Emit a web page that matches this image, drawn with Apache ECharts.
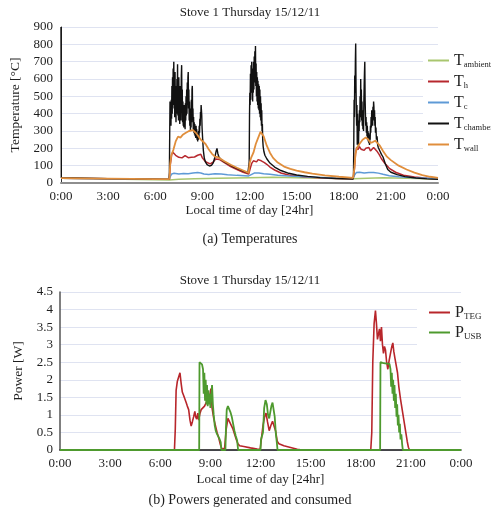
<!DOCTYPE html>
<html>
<head>
<meta charset="utf-8">
<script src="https://cdn.jsdelivr.net/npm/echarts@6/dist/echarts.min.js"></script>
<style>
html, body { margin: 0; padding: 0; background: #fff; }
#chart { width: 491px; height: 513px; }
</style>
</head>
<body>
<div id="chart"></div>
<script>
// Tick labels for the 24 hour time axis (every 3 hours)
const timeLabels = ['0:00', '3:00', '6:00', '9:00', '12:00', '15:00', '18:00', '21:00', '0:00'];

// Temperatures [°C] as [hour of day, value]
const tAmbient = [[0,27],[3,23],[6,19],[6.9,18],[7.5,21],[8.5,24],[10,28],[12,31],[13.5,33],[15,31],[17,27],[18.6,25],[19.5,28],[20.5,31],[22,28],[24,23]];

const tHot = [[0,28],[3,25],[6,22],[6.9,21],[6.95,100],[7.05,165],[7.12,178],[7.2,168],[7.3,160],[7.4,152],[7.5,148],[7.6,155],[7.7,145],[7.8,150],[7.9,158],[8.0,150],[8.1,146],[8.2,152],[8.3,148],[8.4,156],[8.5,150],[8.6,153],[8.7,160],[8.8,158],[8.9,166],[9.0,145],[9.15,128],[9.3,118],[9.5,110],[9.7,122],[9.85,138],[9.95,142],[10.1,135],[10.4,118],[10.8,95],[11.2,78],[11.6,62],[11.95,52],[12.05,85],[12.15,115],[12.25,128],[12.35,132],[12.45,122],[12.55,135],[12.65,140],[12.75,128],[12.85,122],[12.95,118],[13.1,108],[13.3,92],[13.6,75],[14.0,58],[14.5,46],[15.5,35],[17,28],[18.6,25],[18.68,80],[18.75,170],[18.82,205],[18.9,192],[19.0,210],[19.1,195],[19.2,205],[19.3,188],[19.4,200],[19.5,192],[19.6,205],[19.7,185],[19.8,195],[19.9,205],[20.0,198],[20.1,185],[20.25,165],[20.4,140],[20.6,115],[20.9,85],[21.3,62],[21.8,45],[22.5,34],[23.3,28],[24,25]];

const tCold = [[0,28],[3,25],[6,22],[6.9,21],[6.97,40],[7.05,52],[7.2,56],[7.5,52],[7.8,55],[8.1,54],[8.4,57],[8.7,60],[8.9,58],[9.1,52],[9.4,49],[9.8,54],[10.2,52],[10.6,48],[11.2,44],[11.95,41],[12.05,48],[12.3,57],[12.6,58],[12.9,54],[13.3,50],[13.8,45],[14.5,40],[15.5,36],[17,31],[18.6,27],[18.7,48],[18.8,60],[19.0,62],[19.3,58],[19.6,60],[19.9,61],[20.2,57],[20.5,50],[20.9,42],[21.5,36],[22.5,31],[24,26]];

const tChamber = [[0,900],[0.02,30],[3,25],[6,22],[6.88,21],
  // first firing
  [6.9,60],[6.92,280],[6.94,470],[6.96,360],[6.98,450],[7.00,330],[7.02,480],[7.04,370],[7.06,560],[7.08,400],[7.10,610],[7.12,450],[7.14,660],[7.16,520],[7.18,700],[7.20,430],[7.22,590],[7.24,380],[7.26,640],[7.28,410],[7.30,560],[7.32,350],[7.34,520],[7.36,400],[7.38,600],[7.40,440],[7.42,685],[7.44,390],[7.46,560],[7.48,360],[7.50,610],[7.52,380],[7.54,500],[7.56,340],[7.58,560],[7.60,410],[7.62,480],[7.64,360],[7.66,620],[7.68,680],[7.70,420],[7.72,540],[7.74,350],[7.76,470],[7.78,330],[7.80,430],[7.82,320],[7.84,450],[7.86,350],[7.88,420],[7.90,310],[7.92,460],[7.94,360],[7.96,500],[7.98,390],[8.00,540],[8.02,400],[8.04,580],[8.06,450],[8.08,610],[8.10,640],[8.12,430],[8.14,540],[8.16,360],[8.18,470],[8.20,330],[8.22,430],[8.24,300],[8.26,410],[8.28,320],[8.30,480],[8.32,350],[8.34,540],[8.36,560],[8.38,370],[8.40,430],[8.42,310],[8.44,380],[8.46,290],[8.48,350],[8.50,280],[8.52,340],[8.54,270],[8.56,320],[8.58,260],[8.60,330],[8.62,270],[8.64,310],[8.66,250],[8.68,290],[8.70,240],[8.72,280],[8.74,250],[8.76,300],[8.78,260],[8.80,330],[8.82,290],[8.84,370],[8.86,330],[8.88,410],[8.90,380],[8.92,450],[8.94,460],[8.96,390],[8.98,320],[9.02,250],[9.06,190],[9.12,145],[9.2,120],[9.3,106],[9.45,98],[9.58,102],[9.7,118],[9.8,150],[9.88,185],[9.93,200],[9.98,172],[10.05,150],[10.2,135],[10.4,122],[10.7,108],[11.0,92],[11.3,80],[11.6,68],[11.9,58],
  // second firing
  [11.98,120],[12.00,380],[12.02,520],[12.04,450],[12.06,630],[12.08,480],[12.10,680],[12.12,520],[12.14,700],[12.16,560],[12.18,620],[12.20,470],[12.22,660],[12.24,520],[12.26,700],[12.28,540],[12.30,730],[12.32,580],[12.34,760],[12.36,600],[12.38,790],[12.40,560],[12.42,690],[12.44,500],[12.46,640],[12.48,470],[12.50,610],[12.52,450],[12.54,590],[12.56,430],[12.58,570],[12.60,420],[12.62,560],[12.64,400],[12.66,540],[12.68,380],[12.70,500],[12.72,360],[12.74,460],[12.76,330],[12.78,420],[12.80,300],[12.82,340],[12.84,250],[12.87,210],[12.92,180],[12.98,160],[13.1,140],[13.3,115],[13.6,92],[14.0,72],[14.5,56],[15.0,46],[15.7,38],[16.5,31],[17.5,26],[18.6,23],
  // third firing
  [18.62,40],[18.64,250],[18.66,480],[18.68,380],[18.70,620],[18.72,520],[18.74,700],[18.76,805],[18.78,560],[18.80,420],[18.82,330],[18.84,450],[18.86,220],[18.88,400],[18.90,280],[18.92,360],[18.94,210],[18.96,340],[18.98,300],[19.00,420],[19.02,350],[19.04,500],[19.06,380],[19.08,600],[19.10,420],[19.12,540],[19.14,360],[19.16,470],[19.18,330],[19.20,420],[19.22,310],[19.24,400],[19.26,300],[19.28,470],[19.30,560],[19.32,640],[19.34,700],[19.36,480],[19.38,400],[19.40,330],[19.42,380],[19.44,290],[19.46,350],[19.48,270],[19.50,330],[19.52,250],[19.54,300],[19.56,240],[19.58,290],[19.60,230],[19.62,280],[19.64,220],[19.66,270],[19.68,250],[19.70,330],[19.72,290],[19.74,380],[19.76,320],[19.78,420],[19.80,340],[19.82,400],[19.84,330],[19.86,440],[19.88,380],[19.90,470],[19.92,440],[19.94,360],[19.96,420],[19.98,330],[20.00,380],[20.02,290],[20.05,320],[20.08,250],[20.12,270],[20.16,220],[20.2,205],[20.3,185],[20.4,165],[20.5,150],[20.65,110],[20.8,78],[21.0,62],[21.4,48],[21.9,37],[22.6,29],[23.3,24],[24,22]];

const tWall = [[0,28],[3,25],[6,22],[6.9,22],
  [6.95,110],[7.02,160],[7.15,190],[7.3,240],[7.45,268],[7.6,262],[7.75,278],[7.85,270],[7.95,290],[8.05,282],[8.15,300],[8.25,292],[8.4,305],[8.5,295],[8.6,288],[8.7,275],[8.8,262],[8.9,250],[9.05,238],[9.2,225],[9.4,195],[9.6,170],[9.8,152],[9.95,150],[10.1,142],[10.4,125],[10.8,105],[11.2,88],[11.6,72],[11.95,58],
  [12.0,110],[12.1,145],[12.25,175],[12.4,225],[12.55,260],[12.7,295],[12.8,298],[12.9,270],[13.1,215],[13.3,175],[13.5,145],[13.8,118],[14.2,95],[14.6,82],[15.0,72],[15.5,62],[16.0,54],[16.8,44],[17.7,36],[18.6,30],
  [18.68,90],[18.75,170],[18.85,205],[19.0,225],[19.2,250],[19.4,262],[19.55,252],[19.7,232],[19.85,236],[20.0,244],[20.1,243],[20.3,215],[20.5,185],[20.75,152],[21.0,132],[21.5,100],[22.0,78],[22.5,60],[23.0,46],[23.5,36],[24,30]];

// Powers [W] as [hour of day, value]
const pTeg = [[0,0],[6.85,0],[6.9,0.6],[6.95,1.7],[7.02,1.95],[7.1,1.9],[7.18,2.2],[7.25,1.9],[7.32,1.65],[7.4,1.55],[7.48,1.6],[7.55,1.35],[7.62,1.25],[7.7,1.15],[7.78,0.85],[7.85,0.68],[7.92,0.8],[8.0,0.95],[8.07,1.1],[8.12,0.95],[8.18,0.88],[8.25,1.05],[8.3,0.85],[8.38,1.05],[8.45,1.15],[8.55,1.1],[8.65,1.25],[8.75,1.35],[8.85,1.3],[8.95,1.5],[9.03,1.75],[9.1,1.2],[9.2,0.9],[9.3,0.7],[9.4,0.5],[9.5,0.35],[9.6,0.15],[9.7,0.02],[9.85,0.05],[9.95,0.6],[10.05,0.9],[10.15,0.85],[10.25,0.7],[10.35,0.6],[10.45,0.45],[10.55,0.3],[10.65,0.18],[10.75,0.12],[11.0,0.1],[11.4,0.06],[11.8,0.03],[11.98,0.02],[12.05,0.3],[12.15,0.7],[12.25,0.95],[12.33,1.05],[12.42,0.8],[12.52,0.55],[12.62,0.7],[12.72,0.82],[12.8,0.85],[12.9,0.55],[13.0,0.25],[13.1,0.18],[13.4,0.12],[13.8,0.07],[14.2,0.02],[14.5,0],[18.6,0],[18.66,0.5],[18.72,2.5],[18.8,3.6],[18.88,3.97],[18.94,3.6],[19.0,3.15],[19.06,3.3],[19.12,3.45],[19.18,3.1],[19.24,3.5],[19.3,3.0],[19.36,2.75],[19.42,2.95],[19.48,2.85],[19.55,2.5],[19.62,2.3],[19.7,2.55],[19.78,2.75],[19.86,2.95],[19.92,3.05],[19.98,2.8],[20.05,2.6],[20.12,2.65],[20.2,2.2],[20.28,1.8],[20.38,1.45],[20.48,1.15],[20.58,0.85],[20.68,0.55],[20.78,0.25],[20.85,0.08],[20.92,0],[24,0]];

const pUsb = [[0,0],[8.33,0],[8.35,2.5],[8.42,2.47],[8.5,2.44],[8.56,2.3],[8.6,1.6],[8.64,2.2],[8.68,1.4],[8.72,2.0],[8.76,1.3],[8.8,1.85],[8.84,1.25],[8.88,1.7],[8.92,1.3],[8.96,1.6],[9.0,1.2],[9.05,1.5],[9.1,1.85],[9.15,1.3],[9.2,1.0],[9.26,0.7],[9.32,0.55],[9.4,0.45],[9.48,0.4],[9.56,0.3],[9.62,0.22],[9.66,0],[9.9,0],[9.93,0.6],[9.98,1.15],[10.05,1.25],[10.12,1.22],[10.2,1.08],[10.28,0.95],[10.36,0.75],[10.44,0.55],[10.52,0.4],[10.6,0.28],[10.66,0],[12.0,0],[12.03,0.3],[12.1,0.3],[12.15,0.5],[12.22,1.2],[12.3,1.42],[12.38,1.3],[12.45,1.0],[12.52,0.9],[12.58,0.95],[12.65,1.25],[12.72,1.35],[12.78,1.3],[12.85,0.95],[12.92,0.45],[12.98,0.2],[13.02,0],[19.16,0],[19.18,2.5],[19.3,2.48],[19.45,2.47],[19.6,2.46],[19.72,2.45],[19.78,2.3],[19.82,1.8],[19.86,2.2],[19.9,1.6],[19.94,2.0],[19.98,1.4],[20.02,1.85],[20.06,1.2],[20.1,1.6],[20.14,0.95],[20.18,1.3],[20.22,0.7],[20.26,1.0],[20.3,0.5],[20.34,0.75],[20.38,0.3],[20.43,0.45],[20.48,0.15],[20.52,0],[24,0]];

const SERIF = '"Liberation Serif", "DejaVu Serif", serif';
const INK = '#1e1e1e';
const GRID_LINE = '#dfe3f1';

const chart = echarts.init(document.getElementById('chart'), null, { renderer: 'canvas' });

function timeAxis(gridIndex, nameGap, lineColor, lineWidth) {
  return {
    type: 'value', gridIndex, min: 0, max: 24, interval: 3,
    axisLine: { show: true, lineStyle: { color: lineColor, width: lineWidth } },
    axisTick: { show: false },
    splitLine: { show: false },
    axisLabel: {
      formatter: v => timeLabels[Math.round(v / 3)],
      fontFamily: SERIF, fontSize: 13, color: INK, margin: 7
    },
    name: 'Local time of day [24hr]', nameLocation: 'middle', nameGap,
    nameTextStyle: { fontFamily: SERIF, fontSize: 13, color: INK }
  };
}

function subLegend(top, left, gap, padLeft, mainSize, subSize) {
  return {
    orient: 'vertical', left, top, itemGap: gap,
    itemWidth: 21, itemHeight: 2, icon: 'rect',
    backgroundColor: '#fff', padding: [4, 2, 4, padLeft],
    formatter: name => {
      const [m, s] = name.split('_');
      return '{m|' + m + '}{s|' + s + '}';
    },
    textStyle: {
      rich: {
        m: { fontFamily: SERIF, fontSize: mainSize, lineHeight: 18, color: INK },
        s: { fontFamily: SERIF, fontSize: subSize, lineHeight: 10, padding: [8, 0, 0, 0], color: INK }
      }
    }
  };
}

function lineSeries(name, data, color, width, xAxisIndex) {
  return {
    name, type: 'line', data, xAxisIndex, yAxisIndex: xAxisIndex,
    showSymbol: false, symbol: 'none',
    lineStyle: { color, width },
    itemStyle: { color },
    emphasis: { disabled: true }
  };
}

const titleStyle = { fontFamily: SERIF, fontSize: 13, fontWeight: 'normal', color: INK };
const captionStyle = { fontFamily: SERIF, fontSize: 14, fontWeight: 'normal', color: INK };

chart.setOption({
  animation: false,
  backgroundColor: '#fff',
  title: [
    { text: 'Stove 1 Thursday 15/12/11', left: 250, top: 6, textAlign: 'center', padding: 0, textStyle: titleStyle },
    { text: '(a) Temperatures', left: 250, top: 232, textAlign: 'center', padding: 0, textStyle: captionStyle },
    { text: 'Stove 1 Thursday 15/12/11', left: 250, top: 274, textAlign: 'center', padding: 0, textStyle: titleStyle },
    { text: '(b) Powers generated and consumed', left: 250, top: 493, textAlign: 'center', padding: 0, textStyle: captionStyle }
  ],
  grid: [
    { left: 61, top: 27, width: 377, height: 156 },
    { left: 60, top: 292, width: 401, height: 158 }
  ],
  xAxis: [
    timeAxis(0, 18, '#8e8e8e', 2),
    timeAxis(1, 23, '#111', 1.5)
  ],
  yAxis: [
    {
      type: 'value', gridIndex: 0, min: 0, max: 900, interval: 100,
      axisLine: { show: true, lineStyle: { color: '#333', width: 1 } },
      axisTick: { show: false },
      splitLine: { lineStyle: { color: GRID_LINE, width: 1 } },
      axisLabel: { fontFamily: SERIF, fontSize: 13, color: INK, margin: 8 },
      name: 'Temperature [°C]', nameLocation: 'middle', nameGap: 34,
      nameTextStyle: { fontFamily: SERIF, fontSize: 13.5, color: INK }
    },
    {
      type: 'value', gridIndex: 1, min: 0, max: 4.5, interval: 0.5,
      axisLine: { show: true, lineStyle: { color: '#555', width: 1.5 } },
      axisTick: { show: false },
      splitLine: { lineStyle: { color: GRID_LINE, width: 1 } },
      axisLabel: { fontFamily: SERIF, fontSize: 13, color: INK, margin: 7 },
      name: 'Power [W]', nameLocation: 'middle', nameGap: 34,
      nameTextStyle: { fontFamily: SERIF, fontSize: 13.5, color: INK }
    }
  ],
  legend: [
    Object.assign(subLegend(48, 423, 4, 5, 16, 8.5), { data: ['T_ambient', 'T_h', 'T_c', 'T_chamber', 'T_wall'] }),
    Object.assign(subLegend(300, 417, 3, 12, 16, 9), { data: ['P_TEG', 'P_USB'] })
  ],
  series: [
    lineSeries('T_ambient', tAmbient, '#a9c66f', 1.5, 0),
    lineSeries('T_h', tHot, '#b7282e', 1.5, 0),
    lineSeries('T_c', tCold, '#5e9ad6', 1.5, 0),
    lineSeries('T_chamber', tChamber, '#111111', 1.4, 0),
    lineSeries('T_wall', tWall, '#e08e3c', 1.8, 0),
    lineSeries('P_TEG', pTeg, '#b8262b', 1.6, 1),
    lineSeries('P_USB', pUsb, '#4e9a2e', 1.8, 1)
  ]
});
</script>
</body>
</html>
